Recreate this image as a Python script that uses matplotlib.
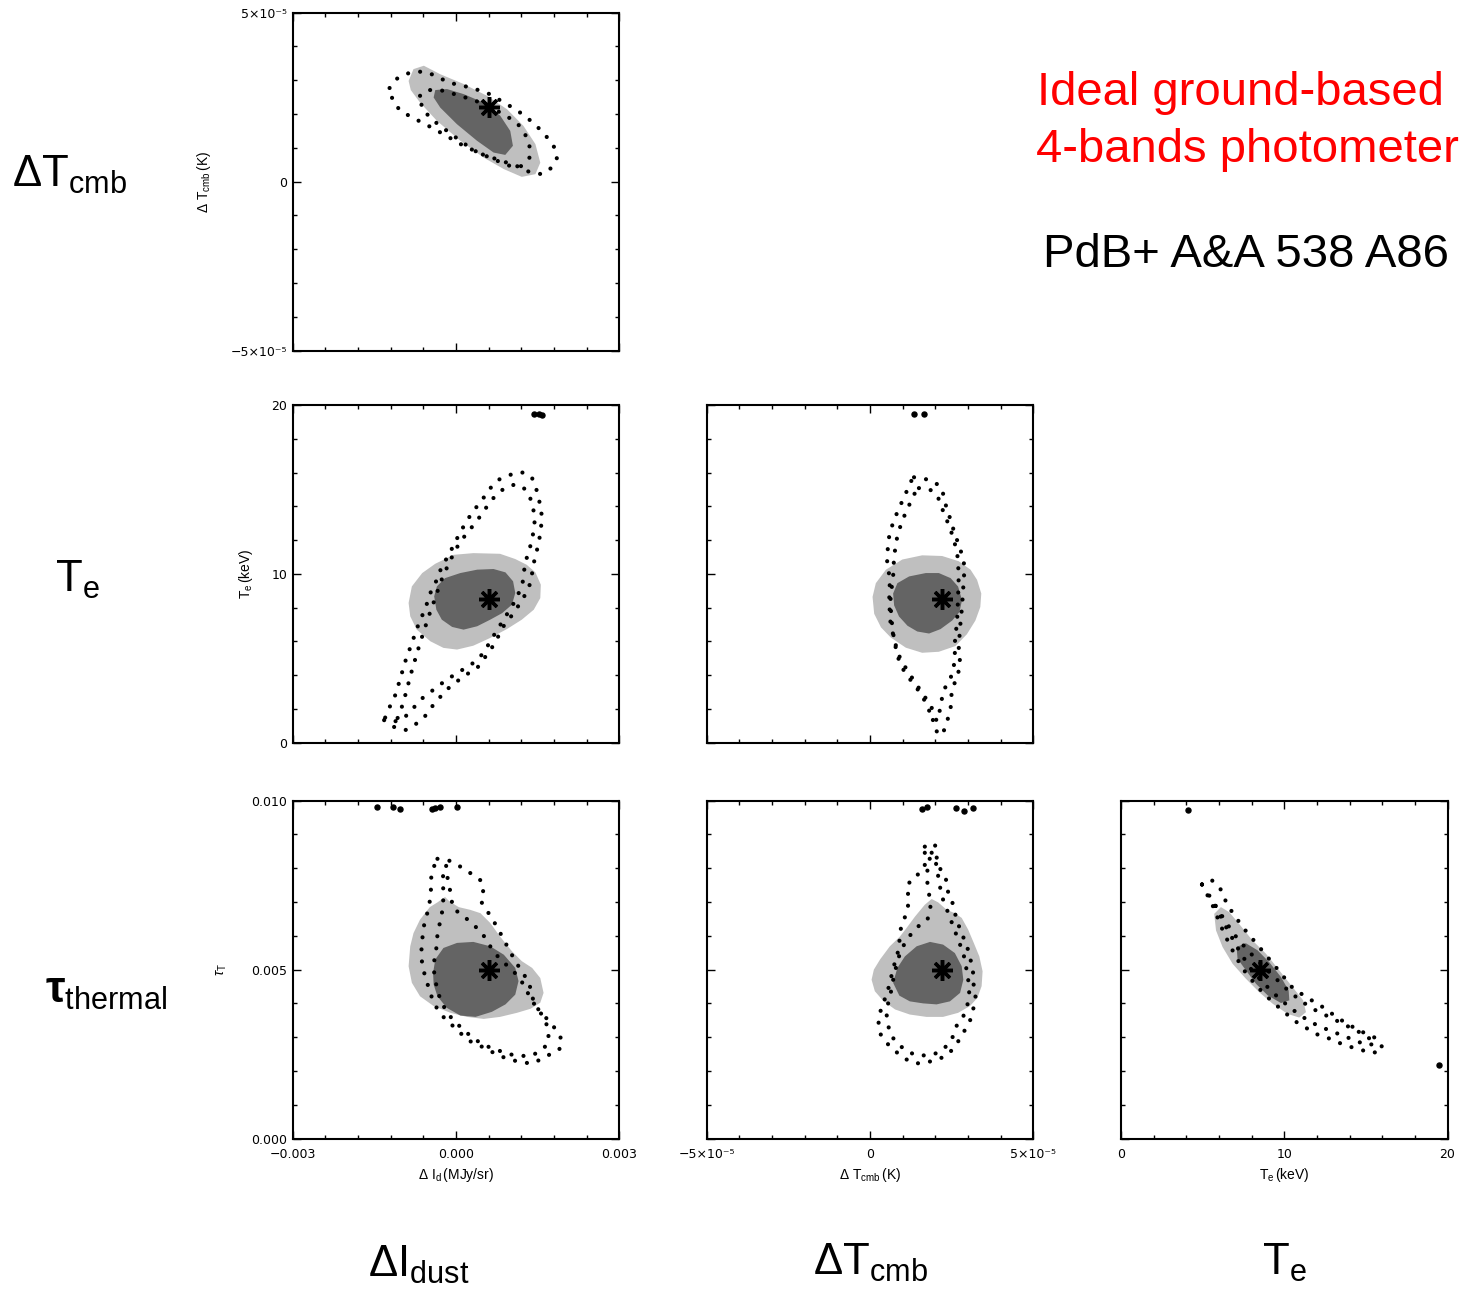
import matplotlib
matplotlib.use("Agg")
import matplotlib.pyplot as plt
from matplotlib.ticker import FixedLocator, MultipleLocator, FixedFormatter
import numpy as np

plt.rcParams['font.family'] = ['DejaVu Sans']
plt.rcParams['mathtext.fontset'] = 'custom'
plt.rcParams['mathtext.rm'] = 'Liberation Sans'
plt.rcParams['mathtext.it'] = 'Liberation Sans:italic'
plt.rcParams['mathtext.bf'] = 'Liberation Sans:bold'

# ---------------------------------------------------------------
# Units used for the tabulated contour vertices
# ---------------------------------------------------------------
U_DI = 1e-3   # Delta I_dust  [MJy/sr]
U_DT = 1e-5   # Delta T_cmb   [K]
U_TE = 1.0    # T_e           [keV]
U_TAU = 1e-3  # tau_thermal

# input (true) parameter values, marked with an asterisk
true_dI = 0.6
true_dT = 2.2
true_Te = 8.5
true_tau = 5.0

# axis ranges
range_dI = (-3.0, 3.0)
range_dT = (-5.0, 5.0)
range_Te = (0.0, 20.0)
range_tau = (0.0, 10.0)

# ---------------- Delta T_cmb vs Delta I_dust ----------------
a_dark_x = [-0.38, -0.165, 0.141, 0.508, 0.814, 0.998, 1.047, 0.906, 0.692, 0.386, 0.018, -0.288, -0.41]
a_dark_y = [2.71, 2.74, 2.59, 2.34, 1.95, 1.50, 1.06, 0.79, 0.86, 1.21, 1.70, 2.19, 2.49]
a_light_x = [-0.87, -0.78, -0.59, -0.29, 0.14, 0.57, 0.94, 1.24, 1.46, 1.55, 1.46, 1.21, 0.88, 0.51, 0.08, -0.35, -0.66, -0.83]
a_light_y = [2.98, 3.33, 3.43, 3.18, 2.89, 2.54, 2.14, 1.65, 1.11, 0.56, 0.22, 0.14, 0.37, 0.71, 1.21, 1.80, 2.34, 2.71]
a_out_x = [-1.22, -1.08, -0.87, -0.62, -0.41, -0.13, 0.20, 0.56, 0.94, 1.27, 1.61, 1.81, 1.86, 1.73, 1.58,
           1.37, 1.12, 0.81, 0.51, 0.14, -0.17, -0.47, -0.78, -1.02, -1.16]
a_out_y = [2.77, 3.05, 3.21, 3.26, 3.16, 2.93, 2.81, 2.64, 2.29, 1.95, 1.45, 1.01, 0.71, 0.37, 0.22,
           0.27, 0.46, 0.63, 0.79, 1.06, 1.35, 1.62, 1.88, 2.09, 2.39]
a_in_x = [-0.66, -0.53, -0.29, 0.08, 0.45, 0.81, 1.12, 1.33, 1.38, 1.21, 1.03, 0.69, 0.32, -0.04, -0.41, -0.62]
a_in_y = [2.54, 2.71, 2.71, 2.54, 2.34, 2.05, 1.75, 1.25, 0.76, 0.46, 0.44, 0.66, 0.93, 1.35, 1.80, 2.14]

# ---------------- T_e vs Delta I_dust ----------------
b_dark_x = [-0.40, -0.35, -0.20, 0.08, 0.39, 0.69, 0.91, 1.05, 1.09, 1.03, 0.85, 0.63, 0.39, 0.14, -0.07, -0.26, -0.36]
b_dark_y = [8.67, 9.26, 9.75, 10.05, 10.25, 10.29, 10.09, 9.56, 8.87, 8.18, 7.68, 7.29, 6.90, 6.70, 6.86, 7.29, 7.88]
b_light_x = [-0.87, -0.81, -0.62, -0.38, -0.04, 0.32, 0.81, 1.09, 1.30, 1.46, 1.56, 1.55, 1.43, 1.21, 0.94,
             0.63, 0.32, 0.02, -0.23, -0.47, -0.72, -0.84]
b_light_y = [8.28, 9.26, 10.05, 10.60, 11.13, 11.23, 11.19, 10.88, 10.54, 10.09, 9.36, 8.57, 7.88, 7.29, 6.74,
             6.21, 5.75, 5.52, 5.62, 6.01, 6.70, 7.49]
b_out_x = [-1.32, -1.15, -0.93, -0.75, -0.59, -0.41, -0.17, 0.14, 0.39, 0.57, 0.72, 0.85, 1.06, 1.24, 1.37,
           1.43, 1.52, 1.56, 1.58, 1.54, 1.48, 1.40, 1.27, 1.12, 0.94, 0.78, 0.63, 0.48, 0.29, 0.14,
           -0.01, -0.13, -0.26, -0.35, -0.47, -0.56, -0.69, -0.81, -0.93, -1.02, -1.11, -1.24]
b_out_y = [1.34, 0.95, 0.75, 1.08, 1.48, 2.27, 3.15, 3.94, 4.43, 5.22, 5.91, 6.80, 7.68, 8.57, 9.46,
           10.64, 11.82, 12.61, 13.40, 14.19, 14.98, 15.67, 16.00, 16.00, 15.80, 15.57, 15.07, 14.38, 13.60, 12.81,
           11.92, 11.13, 10.44, 9.66, 8.87, 7.98, 7.00, 5.91, 4.83, 3.84, 2.86, 1.97]
b_in_x = [-1.11, -0.95, -0.78, -0.61, -0.41, -0.17, 0.08, 0.32, 0.51, 0.63, 0.78, 0.97, 1.12, 1.23, 1.27,
          1.35, 1.41, 1.45, 1.41, 1.33, 1.21, 1.06, 0.89, 0.72, 0.57, 0.42, 0.23, 0.08, -0.04, -0.17,
          -0.29, -0.38, -0.47, -0.56, -0.66, -0.75, -0.84, -0.91, -0.99, -1.05]
b_in_y = [1.28, 1.48, 2.07, 2.66, 3.15, 3.74, 4.24, 4.73, 5.32, 6.01, 6.80, 7.78, 8.57, 9.56, 10.64,
          11.43, 12.22, 13.20, 14.09, 14.78, 15.21, 15.27, 15.07, 14.62, 13.99, 13.30, 12.51, 11.92, 11.23, 10.34,
          9.46, 8.57, 7.78, 6.90, 5.91, 4.93, 3.94, 3.05, 2.17, 1.58]
b_stray_x = [1.43, 1.52, 1.58]
b_stray_y = [19.47, 19.45, 19.41]

# ---------------- T_e vs Delta T_cmb ----------------
c_dark_x = [0.71, 0.84, 1.20, 1.71, 2.11, 2.47, 2.70, 2.82, 2.74, 2.52, 2.16, 1.81, 1.45, 1.15, 0.89, 0.74]
c_dark_y = [8.84, 9.45, 9.85, 10.05, 10.05, 9.75, 9.25, 8.44, 7.74, 7.24, 6.73, 6.47, 6.59, 6.93, 7.48, 8.14]
c_light_x = [0.08, 0.18, 0.49, 0.99, 1.60, 2.21, 2.72, 3.08, 3.28, 3.41, 3.38, 3.23, 2.97, 2.62, 2.11, 1.60,
             1.10, 0.64, 0.34, 0.13]
c_light_y = [8.64, 9.45, 10.25, 10.85, 11.10, 11.06, 10.75, 10.25, 9.65, 8.84, 8.04, 7.24, 6.43, 5.73, 5.39, 5.33,
             5.63, 6.23, 6.83, 7.64]
c_out_x = [1.35, 1.65, 1.96, 2.21, 2.29, 2.44, 2.60, 2.77, 2.90, 2.86, 2.82, 2.76, 2.72, 2.77, 2.62, 2.50,
           2.47, 2.34, 2.21, 2.03, 1.93, 1.89, 1.65, 1.40, 1.10, 0.87, 0.74, 0.62, 0.59, 0.61, 0.52, 0.57,
           0.71, 0.91, 1.10, 1.22]
c_out_y = [15.72, 15.64, 15.48, 15.03, 14.27, 13.37, 12.36, 11.46, 10.45, 9.25, 8.04, 6.83, 5.63, 4.52, 3.72, 2.91,
           2.01, 1.11, 0.44, 0.70, 1.31, 2.11, 2.81, 3.52, 4.42, 5.23, 6.13, 7.24, 8.44, 9.65, 10.85, 12.06,
           13.07, 13.97, 14.77, 15.38]
c_in_x = [1.50, 1.81, 2.06, 2.21, 2.40, 2.57, 2.68, 2.72, 2.70, 2.67, 2.60, 2.60, 2.47, 2.26, 2.16, 2.09,
          1.93, 1.76, 1.60, 1.32, 1.05, 0.84, 0.73, 0.65, 0.63, 0.71, 0.74, 0.84, 0.99, 1.18, 1.32]
c_in_y = [15.08, 15.03, 14.67, 13.87, 12.96, 12.06, 11.06, 9.95, 8.64, 7.24, 5.93, 4.82, 3.82, 3.12, 2.21, 1.31,
          1.45, 2.11, 2.81, 3.52, 4.22, 5.13, 6.23, 7.44, 8.64, 9.85, 11.06, 12.26, 13.17, 13.97, 14.63]
c_stray_x = [1.35, 1.65]
c_stray_y = [19.46, 19.46]

# ---------------- tau vs Delta I_dust ----------------
d_dark_x = [-0.42, -0.38, -0.23, 0.02, 0.32, 0.63, 0.88, 1.09, 1.15, 1.09, 0.91, 0.66, 0.36, 0.08, -0.17, -0.34, -0.41]
d_dark_y = [4.90, 5.30, 5.64, 5.79, 5.82, 5.69, 5.44, 5.05, 4.66, 4.26, 3.97, 3.75, 3.60, 3.64, 3.87, 4.21, 4.56]
d_light_x = [-0.87, -0.84, -0.78, -0.66, -0.48, -0.34, -0.20, -0.12, 0.05, 0.26, 0.45, 0.63, 0.81, 1.03,
             1.21, 1.40, 1.55, 1.61, 1.55, 1.37, 1.12, 0.81, 0.51, 0.20, -0.10, -0.41, -0.66, -0.81]
d_light_y = [5.10, 5.69, 6.08, 6.48, 6.85, 6.99, 7.15, 7.02, 6.85, 6.77, 6.67, 6.38, 5.98, 5.54,
             5.25, 5.05, 4.75, 4.31, 4.02, 3.84, 3.72, 3.60, 3.54, 3.60, 3.72, 3.92, 4.21, 4.61]
d_out_x = [-0.34, -0.13, 0.03, 0.31, 0.48, 0.50, 0.46, 0.62, 0.75, 0.91, 1.09, 1.27, 1.37, 1.43, 1.58, 1.73,
           1.87, 1.95, 1.90, 1.76, 1.58, 1.40, 1.18, 1.00, 0.81, 0.63, 0.45, 0.26, 0.11, -0.04, -0.20, -0.34,
           -0.44, -0.53, -0.61, -0.64, -0.62, -0.58, -0.50, -0.46, -0.46, -0.41]
d_out_y = [8.28, 8.23, 8.10, 7.81, 7.61, 7.31, 7.02, 6.62, 6.28, 5.79, 5.25, 4.80, 4.46, 4.02, 3.67, 3.47,
           3.13, 2.91, 2.64, 2.52, 2.36, 2.22, 2.26, 2.34, 2.44, 2.59, 2.74, 2.88, 3.08, 3.31, 3.54, 3.82,
           4.16, 4.61, 5.05, 5.44, 5.89, 6.38, 6.82, 7.26, 7.68, 8.03]
d_in_x = [-0.18, -0.15, -0.09, -0.06, 0.11, 0.29, 0.48, 0.63, 0.81, 1.03, 1.19, 1.32, 1.46, 1.61, 1.70, 1.70,
          1.58, 1.40, 1.18, 1.00, 0.81, 0.63, 0.45, 0.28, 0.14, -0.01, -0.15, -0.28, -0.35, -0.40, -0.40, -0.36,
          -0.34, -0.29, -0.24, -0.23, -0.24, -0.23]
d_in_y = [8.07, 7.66, 7.21, 6.82, 6.62, 6.38, 6.08, 5.69, 5.30, 5.00, 4.70, 4.31, 3.92, 3.60, 3.23, 2.83,
          2.62, 2.46, 2.44, 2.49, 2.59, 2.69, 2.83, 3.01, 3.23, 3.43, 3.70, 4.07, 4.46, 4.85, 5.25, 5.64,
          6.03, 6.43, 6.82, 7.21, 7.66, 7.97]
d_stray_x = [-1.45, -1.16, -1.03, -0.44, -0.38, -0.29, 0.02]
d_stray_y = [9.80, 9.82, 9.74, 9.74, 9.77, 9.80, 9.82]

# ---------------- tau vs Delta T_cmb ----------------
e_dark_x = [0.71, 0.84, 1.07, 1.43, 1.84, 2.24, 2.60, 2.81, 2.86, 2.76, 2.45, 2.04, 1.63, 1.22, 0.90]
e_dark_y = [4.61, 5.05, 5.39, 5.69, 5.82, 5.74, 5.49, 5.10, 4.70, 4.31, 4.06, 3.97, 4.00, 4.06, 4.23]
e_light_x = [0.05, 0.12, 0.31, 0.61, 0.92, 1.12, 1.38, 1.68, 1.89, 2.09, 2.35, 2.60, 2.81, 3.01, 3.18, 3.35,
             3.45, 3.42, 3.29, 3.06, 2.70, 2.24, 1.73, 1.22, 0.77, 0.41, 0.15]
e_light_y = [4.70, 5.00, 5.30, 5.69, 5.98, 6.23, 6.57, 6.92, 7.09, 6.99, 6.77, 6.67, 6.53, 6.18, 5.79, 5.39,
             4.95, 4.51, 4.16, 3.92, 3.72, 3.60, 3.60, 3.67, 3.82, 4.07, 4.36]
e_out_x = [1.68, 1.99, 2.06, 2.19, 2.33, 2.37, 2.55, 2.63, 2.78, 2.96, 3.08, 3.16, 3.18, 3.24, 3.16, 3.06,
           2.86, 2.65, 2.40, 2.09, 1.76, 1.41, 1.07, 0.77, 0.51, 0.33, 0.26, 0.29, 0.39, 0.53, 0.63, 0.73,
           0.84, 0.90, 0.92, 1.02, 1.14, 1.20, 1.12, 1.28, 1.53, 1.68, 1.68]
e_out_y = [8.64, 8.72, 8.20, 7.90, 7.66, 7.36, 6.92, 6.57, 6.13, 5.74, 5.30, 4.90, 4.46, 4.16, 3.82, 3.47,
           3.13, 2.79, 2.49, 2.34, 2.26, 2.22, 2.36, 2.59, 2.83, 3.08, 3.38, 3.67, 3.97, 4.31, 4.70, 5.10,
           5.44, 5.79, 6.13, 6.43, 6.72, 7.12, 7.41, 7.71, 7.85, 8.10, 8.40]
e_in_x = [1.89, 2.02, 2.04, 2.12, 2.16, 2.24, 2.40, 2.55, 2.70, 2.86, 2.94, 3.01, 3.04, 2.98, 2.86, 2.65,
          2.55, 2.35, 2.09, 1.79, 1.43, 1.12, 0.87, 0.66, 0.56, 0.51, 0.56, 0.66, 0.73, 0.82, 0.92, 1.07,
          1.28, 1.48, 1.76, 1.86, 1.82, 1.76, 1.76, 1.82]
e_in_y = [8.46, 8.20, 7.95, 7.66, 7.36, 7.07, 6.67, 6.28, 5.89, 5.49, 5.10, 4.70, 4.31, 3.92, 3.62, 3.33,
          3.03, 2.74, 2.54, 2.46, 2.46, 2.59, 2.79, 3.03, 3.33, 3.67, 4.02, 4.41, 4.80, 5.15, 5.49, 5.79,
          6.08, 6.28, 6.48, 6.77, 7.17, 7.56, 7.95, 8.25]
e_stray_x = [1.58, 1.76, 2.65, 2.88, 3.16]
e_stray_y = [9.74, 9.80, 9.77, 9.70, 9.77]

# ---------------- tau vs T_e ----------------
f_dark_x = [7.08, 7.65, 8.37, 9.08, 9.80, 10.27, 10.31, 9.80, 8.98, 8.27, 7.65, 7.14]
f_dark_y = [5.67, 5.78, 5.57, 5.22, 4.78, 4.38, 4.09, 4.01, 4.24, 4.58, 4.98, 5.32]
f_light_x = [5.71, 6.12, 6.63, 7.24, 8.06, 8.88, 9.69, 10.51, 11.16, 11.33, 10.92, 10.20, 9.29, 8.47, 7.65,
             6.84, 6.22, 5.82]
f_light_y = [6.65, 6.85, 6.70, 6.35, 5.86, 5.47, 4.98, 4.48, 4.09, 3.74, 3.58, 3.69, 3.99, 4.33, 4.73,
             5.17, 5.67, 6.16]
f_out_x = [4.96, 5.51, 6.06, 6.53, 7.45, 8.47, 9.49, 10.51, 11.33, 12.24, 13.37, 14.49, 15.71, 16.06, 15.45,
           14.80, 14.08, 13.37, 12.76, 12.14, 11.53, 10.82, 10.00, 9.18, 8.37, 7.65, 7.04, 6.53, 6.06, 5.71, 5.31]
f_out_y = [7.52, 7.67, 7.42, 6.90, 6.26, 5.67, 5.07, 4.46, 4.19, 3.93, 3.54, 3.22, 2.95, 2.65, 2.53,
           2.61, 2.71, 2.83, 2.96, 3.05, 3.22, 3.42, 3.74, 4.09, 4.48, 4.90, 5.37, 5.86, 6.35, 6.80, 7.19]
f_in_x = [5.41, 5.92, 6.43, 7.04, 7.76, 8.57, 9.39, 10.20, 11.02, 11.94, 12.96, 13.98, 15.00, 15.57, 15.10,
          14.39, 13.57, 12.76, 11.94, 11.12, 10.31, 9.49, 8.67, 7.96, 7.35, 6.84, 6.33, 5.86]
f_in_y = [7.19, 6.80, 6.40, 5.98, 5.57, 5.17, 4.78, 4.40, 4.07, 3.79, 3.55, 3.30, 3.05, 2.81, 2.76,
          2.89, 3.05, 3.20, 3.37, 3.60, 3.89, 4.24, 4.63, 5.02, 5.47, 5.91, 6.35, 6.80]
f_stray_x = [4.08, 19.45]
f_stray_y = [9.72, 2.17]

# tick labels
lab_dI = ['\u22120.003', '0.000', '0.003']
lab_dT = ['\u22125\u00d710\u207b\u2075', '0', '5\u00d710\u207b\u2075']
lab_Te = ['0', '10', '20']
lab_tau = ['0.000', '0.005', '0.010']

LIGHT = '#bfbfbf'
DARK = '#646464'

W, H = 1460, 1291
fig = plt.figure(figsize=(W / 100, H / 100), dpi=100)

col_left = [292.7, 706.7, 1121.0]
row_top = [12.7, 405.0, 800.7]
ax_w, ax_h = 326.5, 337.8


def make_axes(col, row):
    l = col_left[col] / W
    b = 1 - (row_top[row] + ax_h) / H
    return fig.add_axes([l, b, ax_w / W, ax_h / H])


def style_axis(ax, xr, xu, xlabels, yr, yu, ylabels, show_x, show_y):
    ax.set_xlim(xr[0] * xu, xr[1] * xu)
    ax.set_ylim(yr[0] * yu, yr[1] * yu)
    xmaj = [xr[0] * xu, 0.5 * (xr[0] + xr[1]) * xu, xr[1] * xu]
    ymaj = [yr[0] * yu, 0.5 * (yr[0] + yr[1]) * yu, yr[1] * yu]
    ax.xaxis.set_major_locator(FixedLocator(xmaj))
    ax.yaxis.set_major_locator(FixedLocator(ymaj))
    ax.xaxis.set_minor_locator(MultipleLocator((xr[1] - xr[0]) * xu / 10))
    ax.yaxis.set_minor_locator(MultipleLocator((yr[1] - yr[0]) * yu / 10))
    ax.xaxis.set_major_formatter(FixedFormatter(xlabels))
    ax.yaxis.set_major_formatter(FixedFormatter(ylabels))
    ax.tick_params(which='both', direction='in', top=True, right=True, width=1.0,
                   labelsize=9, labelbottom=show_x, labelleft=show_y)
    ax.tick_params(which='major', length=6)
    ax.tick_params(which='minor', length=3.2)
    ax.tick_params(axis='x', pad=6.5)
    ax.tick_params(axis='y', pad=4)
    for s in ax.spines.values():
        s.set_linewidth(1.5)


def draw_panel(ax, xu, yu, light, dark, loops, stray, star):
    ax.fill(np.array(light[0]) * xu, np.array(light[1]) * yu, color=LIGHT, lw=0, zorder=1)
    ax.fill(np.array(dark[0]) * xu, np.array(dark[1]) * yu, color=DARK, lw=0, zorder=2)
    for lx, ly in loops:
        x = np.array(lx + lx[:1]) * xu
        y = np.array(ly + ly[:1]) * yu
        ax.plot(x, y, color='k', lw=3.0, ls=(0, (0.01, 2.9)), dash_capstyle='round', zorder=3)
    if stray is not None:
        ax.plot(np.array(stray[0]) * xu, np.array(stray[1]) * yu, 'o', color='k', ms=3.6, zorder=3)
    ax.plot([star[0] * xu], [star[1] * yu], marker=(8, 2, 0), color='k', ms=15, mew=2.5, zorder=4)


# top-left
ax = make_axes(0, 0)
style_axis(ax, range_dI, U_DI, lab_dI, range_dT, U_DT, lab_dT, False, True)
draw_panel(ax, U_DI, U_DT, (a_light_x, a_light_y), (a_dark_x, a_dark_y),
           [(a_out_x, a_out_y), (a_in_x, a_in_y)], None, (true_dI, true_dT))
ax.set_ylabel(r'$\Delta\ \mathrm{T_{cmb}\,(K)}$', fontsize=10)
ax.yaxis.set_label_coords(-0.245, 0.5)

# middle-left
ax = make_axes(0, 1)
style_axis(ax, range_dI, U_DI, lab_dI, range_Te, U_TE, lab_Te, False, True)
draw_panel(ax, U_DI, U_TE, (b_light_x, b_light_y), (b_dark_x, b_dark_y),
           [(b_out_x, b_out_y), (b_in_x, b_in_y)], (b_stray_x, b_stray_y), (true_dI, true_Te))
ax.set_ylabel(r'$\mathrm{T_e\,(keV)}$', fontsize=10)
ax.yaxis.set_label_coords(-0.115, 0.5)

# middle-centre
ax = make_axes(1, 1)
style_axis(ax, range_dT, U_DT, lab_dT, range_Te, U_TE, lab_Te, False, False)
draw_panel(ax, U_DT, U_TE, (c_light_x, c_light_y), (c_dark_x, c_dark_y),
           [(c_out_x, c_out_y), (c_in_x, c_in_y)], (c_stray_x, c_stray_y), (true_dT, true_Te))

# bottom-left
ax = make_axes(0, 2)
style_axis(ax, range_dI, U_DI, lab_dI, range_tau, U_TAU, lab_tau, True, True)
draw_panel(ax, U_DI, U_TAU, (d_light_x, d_light_y), (d_dark_x, d_dark_y),
           [(d_out_x, d_out_y), (d_in_x, d_in_y)], (d_stray_x, d_stray_y), (true_dI, true_tau))
ax.set_ylabel(r'$\tau_{\mathrm{T}}$', fontsize=10)
ax.yaxis.set_label_coords(-0.195, 0.5)
ax.set_xlabel(r'$\Delta\ \mathrm{I_d\,(MJy/sr)}$', fontsize=10)
ax.xaxis.set_label_coords(0.5, -0.08)

# bottom-centre
ax = make_axes(1, 2)
style_axis(ax, range_dT, U_DT, lab_dT, range_tau, U_TAU, lab_tau, True, False)
draw_panel(ax, U_DT, U_TAU, (e_light_x, e_light_y), (e_dark_x, e_dark_y),
           [(e_out_x, e_out_y), (e_in_x, e_in_y)], (e_stray_x, e_stray_y), (true_dT, true_tau))
ax.set_xlabel(r'$\Delta\ \mathrm{T_{cmb}\,(K)}$', fontsize=10)
ax.xaxis.set_label_coords(0.5, -0.08)

# bottom-right
ax = make_axes(2, 2)
style_axis(ax, range_Te, U_TE, lab_Te, range_tau, U_TAU, lab_tau, True, False)
draw_panel(ax, U_TE, U_TAU, (f_light_x, f_light_y), (f_dark_x, f_dark_y),
           [(f_out_x, f_out_y), (f_in_x, f_in_y)], (f_stray_x, f_stray_y), (true_Te, true_tau))
ax.set_xlabel(r'$\mathrm{T_e\,(keV)}$', fontsize=10)
ax.xaxis.set_label_coords(0.5, -0.08)

# parameter names along rows and columns
big = dict(fontsize=31.5, color='k', va='baseline', ha='left')
fig.text(12 / W, 1 - 187 / H, r'$\Delta\mathrm{T}_{\mathrm{cmb}}$', **big)
fig.text(55 / W, 1 - 592 / H, r'$\mathrm{T}_{\mathrm{e}}$', **big)
fig.text(45 / W, 1 - 1003 / H, r'$\mathbf{\tau}_{\mathrm{thermal}}$', **big)
fig.text(368 / W, 1 - 1277 / H, r'$\Delta\mathrm{I}_{\mathrm{dust}}$', **big)
fig.text(813 / W, 1 - 1275 / H, r'$\Delta\mathrm{T}_{\mathrm{cmb}}$', **big)
fig.text(1262 / W, 1 - 1275 / H, r'$\mathrm{T}_{\mathrm{e}}$', **big)

note = dict(fontsize=34, family='Liberation Sans', va='baseline', ha='left')
fig.text(1037 / W, 1 - 105 / H, 'Ideal ground-based', color='red', **note)
fig.text(1036 / W, 1 - 162 / H, '4-bands photometer', color='red', **note)
fig.text(1043 / W, 1 - 267 / H, 'PdB+ A&A 538 A86', color='black', **note)

fig.savefig('out.png', dpi=100)
